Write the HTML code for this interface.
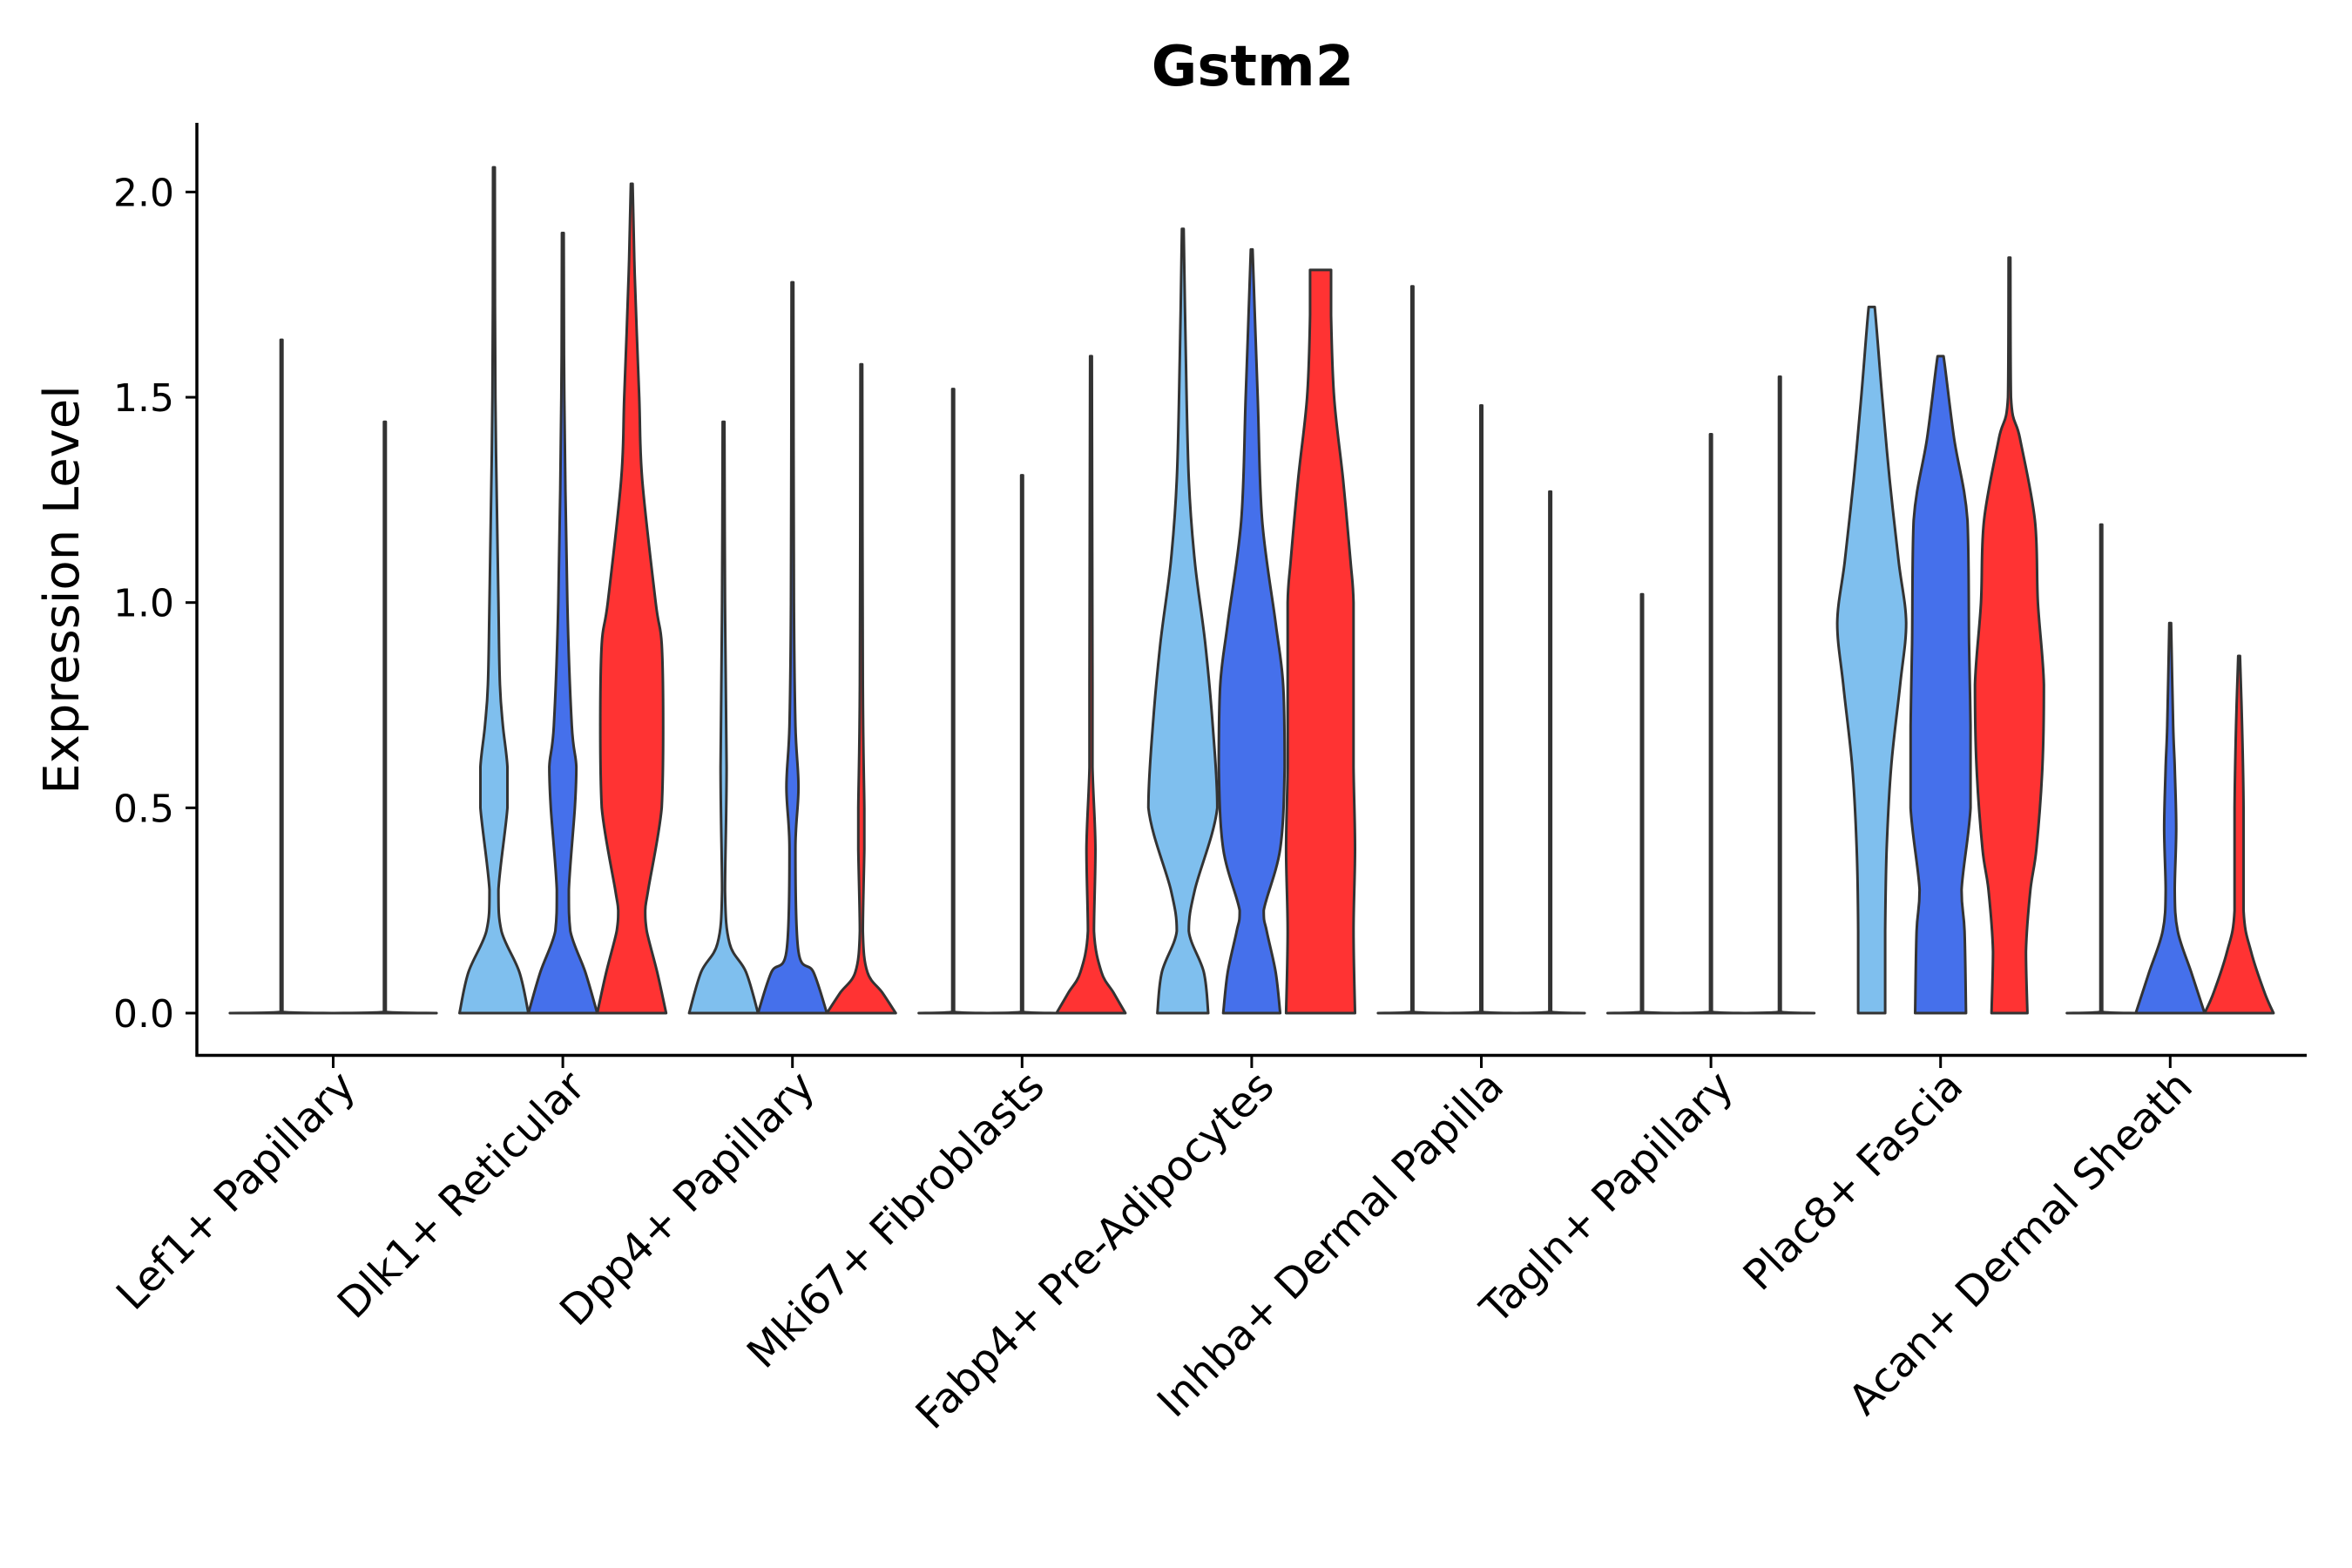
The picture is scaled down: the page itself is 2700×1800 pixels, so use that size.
<!DOCTYPE html>
<html><head><meta charset="utf-8"><style>
html,body{margin:0;padding:0;background:#fff;}
svg{display:block;font-family:"DejaVu Sans","Liberation Sans",sans-serif;}
</style></head><body>
<svg id="chart" width="2700" height="1800" viewBox="0 0 2700 1800" xmlns="http://www.w3.org/2000/svg">
<rect width="2700" height="1800" fill="#fff"/>
<text x="1438" y="98" text-anchor="middle" font-size="64" font-weight="bold">Gstm2</text>
<text transform="translate(90,677) rotate(-90)" text-anchor="middle" font-size="56">Expression Level</text>
<g id="violins"></g>
<g id="axes"></g>
</svg>
<script>
const categories = ["Lef1+ Papillary","Dlk1+ Reticular","Dpp4+ Papillary","Mki67+ Fibroblasts","Fabp4+ Pre-Adipocytes","Inhba+ Dermal Papilla","Tagln+ Papillary","Plac8+ Fascia","Acan+ Dermal Sheath"];
const yTicks = [0, 0.5, 1.0, 1.5, 2.0];
const yTickLabels = ["0.0","0.5","1.0","1.5","2.0"];
const seriesColors = ["#7fbfee","#4570eb","#ff3333"];
const violinGroup = [0,0, 1,1,1, 2,2,2, 3,3,3, 4,4,4, 5,5,5, 6,6,6, 7,7,7, 8,8,8];
const violinSlot  = [0,1, 0,1,2, 0,1,2, 0,1,2, 0,1,2, 0,1,2, 0,1,2, 0,1,2, 0,1,2];
const violinSlots = [2,2, 3,3,3, 3,3,3, 3,3,3, 3,3,3, 3,3,3, 3,3,3, 3,3,3, 3,3,3];
const violinColor = [0,2, 0,1,2, 0,1,2, 0,1,2, 0,1,2, 0,1,2, 0,1,2, 0,1,2, 0,1,2];
const violinValues = [
 [0,0.003,1.64],[0,0.003,1.44],
 [0,0.1,0.2,0.3,0.5,0.6,0.7,0.8,1.0,1.5,2.06],
 [0,0.1,0.2,0.3,0.5,0.6,0.7,1.0,1.5,1.9],
 [0,0.1,0.2,0.25,0.3,0.5,0.7,0.9,1.0,1.3,1.5,1.8,2.02],
 [0,0.1,0.17,0.3,0.6,1.0,1.44],
 [0,0.1,0.15,0.4,0.55,0.7,1.0,1.78],
 [0,0.05,0.1,0.2,0.4,0.5,0.8,1.58],
 [0,0.003,1.52],
 [0,0.003,1.31],
 [0,0.05,0.1,0.2,0.4,0.6,0.8,1.6],
 [0,0.1,0.2,0.3,0.5,0.7,0.9,1.1,1.3,1.6,1.91],
 [0,0.1,0.2,0.25,0.4,0.6,0.8,0.95,1.2,1.5,1.86],
 [0,0.2,0.4,0.6,0.8,1.0,1.1,1.3,1.5,1.7,1.81,1.81],
 [0,0.003,1.77],[0,0.003,1.48],[0,0.003,1.27],
 [0,0.003,1.02],[0,0.003,1.41],[0,0.003,1.55],
 [0,0.2,0.4,0.6,0.8,0.95,1.1,1.3,1.5,1.72,1.72],
 [0,0.2,0.3,0.5,0.7,0.9,1.2,1.4,1.6,1.6],
 [0,0.15,0.3,0.4,0.6,0.8,1.0,1.2,1.4,1.5,1.84],
 [0,0.003,1.19],
 [0,0.1,0.2,0.3,0.45,0.6,0.7,0.95],
 [0,0.05,0.15,0.25,0.5,0.7,0.87]
];
const violinDensity = [
 [23,0.3,0],[23,0.3,0],
 [23,17,5,3,9,9,6,4,3,1,0],
 [23,15,5,4,8,9,6,3,1,0],
 [23,17,10,9,11,20,21,20,16,7,5,2,0],
 [23,15,4,1,2,1,0],
 [23,14,4,2,4,2,1,0],
 [23,14,4,1,2,2,1,0],
 [23,0.3,0],
 [23,0.3,0],
 [23,15,7,2,3,1,1,0],
 [17,14,4,8,23,20,15,8,4,2,0],
 [19,16,10,8,19,22,21,16,7,4,0],
 [23,22,23,22,22,22,20,15,9,7,7,0],
 [23,0.3,0],[23,0.3,0],[23,0.3,0],
 [23,0.3,0],[23,0.3,0],[23,0.3,0],
 [9,9,10,13,19,23,18,12,7,2,0],
 [17,16,14,20,20,19,18,9,2,0],
 [12,11,14,18,22,23,19,17,7,1,0],
 [23,0.3,0],
 [23,14,5,3,4,3,2,0],
 [23,17,8,3,3,2,0]
];
const NS="http://www.w3.org/2000/svg";
const X0=382.5, STEP=263.6, Y0=1163, YU=471.3;
function yScale(v){return Y0 - v*YU;}
function xGroup(i){return X0 + i*STEP;}
function clamp(v,a,b){const lo=Math.min(a,b),hi=Math.max(a,b);return Math.max(lo,Math.min(hi,v));}
function smoothPath(pts){
  let d='M'+pts[0][0].toFixed(1)+','+pts[0][1].toFixed(1);
  for(let i=0;i<pts.length-1;i++){
    const p0=pts[Math.max(0,i-1)],p1=pts[i],p2=pts[i+1],p3=pts[Math.min(pts.length-1,i+2)];
    let c1=[p1[0]+(p2[0]-p0[0])/6,p1[1]+(p2[1]-p0[1])/6];
    let c2=[p2[0]-(p3[0]-p1[0])/6,p2[1]-(p3[1]-p1[1])/6];
    c1=[clamp(c1[0],p1[0],p2[0]),clamp(c1[1],p1[1],p2[1])];
    c2=[clamp(c2[0],p1[0],p2[0]),clamp(c2[1],p1[1],p2[1])];
    d+=' C'+c1[0].toFixed(1)+','+c1[1].toFixed(1)+' '+c2[0].toFixed(1)+','+c2[1].toFixed(1)+' '+p2[0].toFixed(1)+','+p2[1].toFixed(1);
  }
  return d;
}
const vg=document.getElementById('violins');
for(let k=0;k<violinGroup.length;k++){
  const n=violinSlots[k];
  const slotW = STEP*0.9/n;
  const cx = xGroup(violinGroup[k]) + (violinSlot[k]-(n-1)/2)*slotW;
  const half = slotW/2;
  const ys=violinValues[k], ws=violinDensity[k];
  let right=[], left=[];
  for(let j=0;j<ys.length;j++){
    let w=ws[j]/23*half;
    if(w<1){w=1;}
    right.push([cx+w,yScale(ys[j])]);
    left.unshift([cx-w,yScale(ys[j])]);
  }
  const rd=smoothPath(right);
  const ld=smoothPath(left).replace(/^M/,'L');
  const p=document.createElementNS(NS,'path');
  p.setAttribute('d',rd+' '+ld+' Z');
  p.setAttribute('fill',seriesColors[violinColor[k]]);
  p.setAttribute('stroke','#333');
  p.setAttribute('stroke-width','3');
  p.setAttribute('stroke-linejoin','round');
  
  
  vg.appendChild(p);
}
const ag=document.getElementById('axes');
function line(x1,y1,x2,y2,w,name){
  const l=document.createElementNS(NS,'line');
  l.setAttribute('x1',x1);l.setAttribute('y1',y1);l.setAttribute('x2',x2);l.setAttribute('y2',y2);
  l.setAttribute('stroke','#000');l.setAttribute('stroke-width',w);
  
  
  ag.appendChild(l);
}
line(226,141,226,1213,3.5,'y-axis-line');
line(224.5,1211.5,2648,1211.5,3.5,'x-axis-line');
yTicks.forEach((v,i)=>{
  const y=yScale(v);
  line(213,y,226,y,3,'y-tick');
  const t=document.createElementNS(NS,'text');
  t.setAttribute('x',200);t.setAttribute('y',y+16);
  t.setAttribute('text-anchor','end');t.setAttribute('font-size','44');
  t.textContent=yTickLabels[i];
  
  
  ag.appendChild(t);
});
categories.forEach((c,i)=>{
  const x=xGroup(i);
  line(x,1213,x,1226,3,'x-tick');
  const t=document.createElementNS(NS,'text');
  t.setAttribute('transform','translate('+(x+28)+',1250) rotate(-45)');
  t.setAttribute('text-anchor','end');t.setAttribute('font-size','48');
  t.textContent=c;
  
  
  ag.appendChild(t);
});
</script>
</body></html>
